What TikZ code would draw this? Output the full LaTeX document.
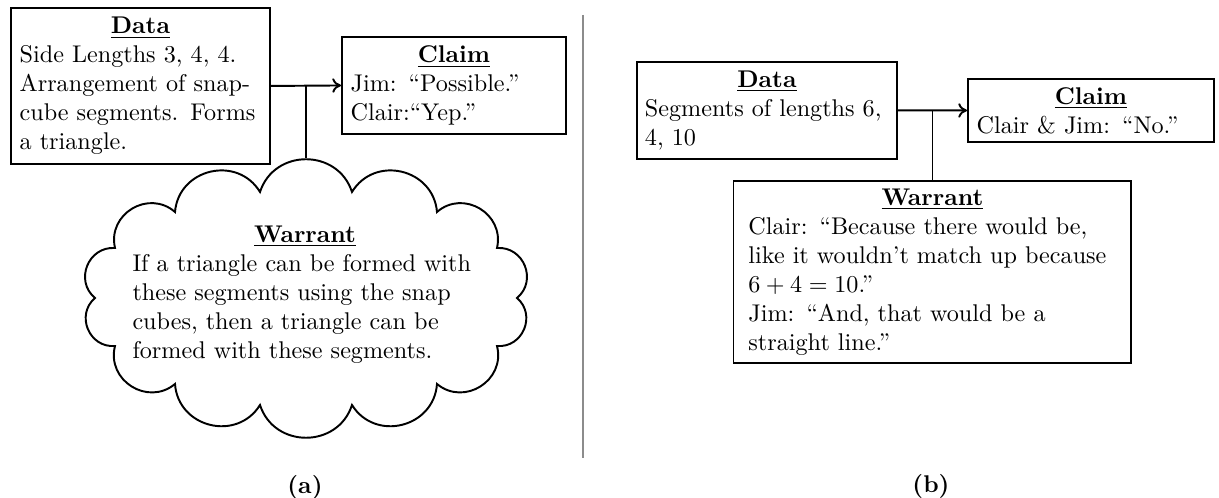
\documentclass[tikz,border=0pt]{standalone}
\usetikzlibrary{calc,arrows.meta}
\newcommand\boxtitle[1]{{\centering\underline{\textbf{#1}}\par}}
\tikzset{
  tbox/.style={draw, line width=0.8pt, rectangle, anchor=north west, align=left, inner ysep=1pt},
  conn/.style={line width=0.8pt},
  arr/.style={conn, -{To[length=3.6pt,width=6pt]}},
  puff/.style={bend left=72, looseness=1.28},
  cloudline/.style={line width=0.8pt, line join=miter},
  sepline/.style={line width=0.5pt, black!45},
  lab/.style={font=\bfseries, inner sep=0pt},
}
\begin{document}
\begin{tikzpicture}[x=0.41374pt, y=-0.41374pt]
\useasboundingbox (0,0) rectangle (1219,498);

% ---------- panel (a)
\node[tbox, inner xsep=3.6pt, text width=99.96pt, minimum height=64.54pt] (da) at (10,7)
  {\boxtitle{Data}Side Lengths 3, 4, 4.\\ Arrangement of snap-\\ cube segments. Forms\\ a triangle.};
\node[tbox, inner xsep=3.6pt, text width=85.48pt, minimum height=40.13pt] (ca) at (341,36)
  {\boxtitle{Claim}Jim: ``Possible.''\\ Clair:``Yep.''};

% warrant cloud (drawn from its cusps)
\coordinate (c1) at (260,192);  \coordinate (c2) at (352,192);
\coordinate (c3) at (437,212);  \coordinate (c4) at (497,248);
\coordinate (c5) at (517,298);  \coordinate (c6) at (497,346);
\coordinate (c7) at (437,384);  \coordinate (c8) at (352,405);
\coordinate (c9) at (260,405);  \coordinate (c10) at (175,384);
\coordinate (c11) at (115,346); \coordinate (c12) at (95,298);
\coordinate (c13) at (115,248); \coordinate (c14) at (175,212);
\coordinate (wtop) at (306,158);
\draw[cloudline] (c1) to[puff] (c2) to[puff] (c3) to[puff] (c4) to[puff] (c5)
  to[puff] (c6) to[puff] (c7) to[puff] (c8) to[puff] (c9) to[puff] (c10)
  to[puff] (c11) to[puff] (c12) to[puff] (c13) to[puff] (c14) to[puff] cycle;
\node[align=left, text width=142.74pt, inner sep=0pt] (wat) at (305,294.5)
  {\boxtitle{Warrant}If a triangle can be formed with\\ these segments using the snap\\ cubes, then a triangle can be\\ formed with these segments.};
\coordinate (ja) at ($(da.east)!0.5!(ca.west)$);
\draw[arr] (da.east) -- (ca.west);
\draw[conn] (ja) -- (ja |- wtop);

% ---------- separator
\coordinate (s1) at (583,15);
\coordinate (s2) at (583,458);
\draw[sepline] (s1) -- (s2);

% ---------- panel (b)
\node[tbox, inner xsep=3.31pt, text width=100.95pt, minimum height=40.13pt] (db) at (636,61)
  {\boxtitle{Data}Segments of lengths 6,\\ 4, 10};
\node[tbox, inner xsep=3.6pt, text width=94.58pt, minimum height=26.07pt] (cb) at (967,78)
  {\boxtitle{Claim}Clair \& Jim: ``No.''};
\node[tbox, inner xsep=6.2pt, text width=152.26pt, minimum height=75.30pt] (wb) at (732.5,180)
  {\boxtitle{Warrant}Clair: ``Because there would be,\\ like it wouldn't match up because\\ $6+4=10$.''\\ Jim: ``And, that would be a\\ straight line.''};
\coordinate (jb) at ($(db.east)!0.5!(cb.west)$);
\draw[arr] (db.east) -- (cb.west);
\draw[conn] (jb) -- (jb |- wb.north);

% ---------- labels
\node[lab] (la) at (305,487) {(a)};
\node[lab] (lb) at (931,486) {(b)};
\end{tikzpicture}
\end{document}
